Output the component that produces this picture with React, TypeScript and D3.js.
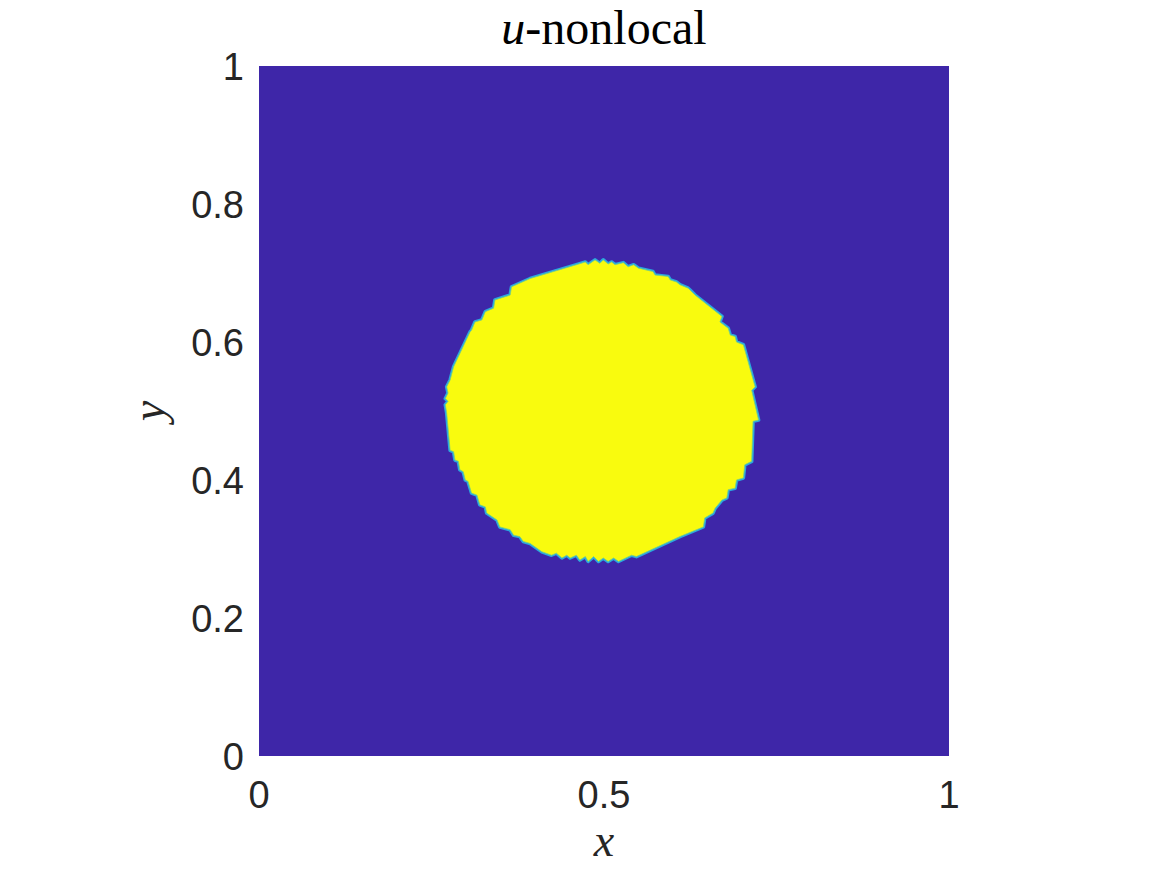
import React from "react";
import * as d3 from "d3";

// Boundary of the u = 1 region (data coordinates), traced clockwise
const blobX = [
  0.282, 0.306, 0.308, 0.313, 0.323, 0.328, 0.340, 0.342, 0.364, 0.366,
  0.393, 0.460, 0.473, 0.477, 0.487, 0.494, 0.499, 0.506, 0.511, 0.516,
  0.528, 0.535, 0.543, 0.550, 0.571, 0.574, 0.593, 0.596, 0.605, 0.610,
  0.622, 0.627, 0.632, 0.671, 0.668, 0.680, 0.683, 0.690, 0.692, 0.702,
  0.719, 0.714, 0.724, 0.716, 0.714, 0.704, 0.702, 0.692, 0.690, 0.680,
  0.678, 0.671, 0.661, 0.658, 0.646, 0.644, 0.610, 0.547, 0.540, 0.521,
  0.514, 0.506, 0.499, 0.492, 0.485, 0.477, 0.473, 0.465, 0.460, 0.451,
  0.446, 0.439, 0.431, 0.424, 0.410, 0.393, 0.383, 0.378, 0.369, 0.364,
  0.349, 0.345, 0.330, 0.328, 0.320, 0.316, 0.308, 0.303, 0.299, 0.296,
  0.291, 0.289, 0.284, 0.282, 0.277, 0.272, 0.270, 0.274, 0.270, 0.274,
  0.272, 0.277,
];
const blobY = [
  0.564, 0.615, 0.617, 0.629, 0.632, 0.644, 0.649, 0.661, 0.668, 0.680,
  0.692, 0.712, 0.716, 0.712, 0.719, 0.714, 0.719, 0.713, 0.716, 0.712,
  0.715, 0.709, 0.712, 0.707, 0.702, 0.697, 0.695, 0.690, 0.687, 0.683,
  0.678, 0.673, 0.668, 0.637, 0.629, 0.620, 0.610, 0.608, 0.600, 0.596,
  0.535, 0.530, 0.487, 0.485, 0.427, 0.422, 0.403, 0.400, 0.388, 0.386,
  0.374, 0.371, 0.359, 0.352, 0.345, 0.332, 0.318, 0.289, 0.291, 0.282,
  0.287, 0.282, 0.287, 0.282, 0.289, 0.282, 0.289, 0.284, 0.291, 0.287,
  0.291, 0.287, 0.294, 0.291, 0.296, 0.308, 0.311, 0.318, 0.320, 0.328,
  0.332, 0.342, 0.352, 0.361, 0.364, 0.378, 0.381, 0.398, 0.400, 0.412,
  0.415, 0.427, 0.429, 0.441, 0.443, 0.497, 0.509, 0.514, 0.518, 0.526,
  0.535, 0.545,
];

const xTicks = [0, 0.5, 1];
const xTickLabels = ["0", "0.5", "1"];
const yTicks = [0, 0.2, 0.4, 0.6, 0.8, 1];
const yTickLabels = ["0", "0.2", "0.4", "0.6", "0.8", "1"];

const W = 1167;
const H = 875;
const L = 259, R = 949, T = 66, B = 756;

export default function App() {
  const x = d3.scaleLinear().domain([0, 1]).range([L, R]);
  const y = d3.scaleLinear().domain([0, 1]).range([B, T]);
  const pts: [number, number][] = blobX.map((v, i) => [v, blobY[i]]);
  const line = d3
    .line<[number, number]>()
    .x((d) => x(d[0]))
    .y((d) => y(d[1]))
    .curve(d3.curveLinearClosed);
  const d = line(pts) || "";
  const tickFont = "'Liberation Sans', Arial, Helvetica, sans-serif";
  const texFont = "'Liberation Serif', 'Times New Roman', serif";
  return (
    <svg
      width={W}
      height={H}
      style={{ position: "absolute", left: 0, top: 0, background: "#fff" }}
    >
      <rect x={x(0)} y={y(1)} width={x(1) - x(0)} height={y(0) - y(1)} fill="#3e26a8" />
      <path d={d} fill="#f9fb0e" stroke="#2aa7e0" strokeWidth={3.6} strokeLinejoin="round" />
      <path d={d} fill="#f9fb0e" stroke="#7fd27a" strokeWidth={0.8} strokeLinejoin="round" />
      {yTicks.map((t, i) => (
        <text
          key={"y" + i}
          x={L - 15}
          y={y(t)}
          dy="0.36em"
          textAnchor="end"
          fontFamily={tickFont}
          fontSize={38}
          fill="#262626"
        >
          {yTickLabels[i]}
        </text>
      ))}
      {xTicks.map((t, i) => (
        <text
          key={"x" + i}
          x={x(t)}
          y={808}
          textAnchor="middle"
          fontFamily={tickFont}
          fontSize={38}
          fill="#262626"
        >
          {xTickLabels[i]}
        </text>
      ))}
      <text x={(L + R) / 2} y={44} textAnchor="middle" fontFamily={texFont} fontSize={48} fill="#000">
        <tspan fontStyle="italic">u</tspan>-nonlocal
      </text>
      <text x={(L + R) / 2} y={856} textAnchor="middle" fontFamily={texFont} fontSize={46} fontStyle="italic" fill="#262626">
        x
      </text>
      <text
        transform={`translate(164, ${(T + B) / 2}) rotate(-90)`}
        textAnchor="middle"
        fontFamily={texFont}
        fontSize={46}
        fontStyle="italic"
        fill="#262626"
      >
        y
      </text>
    </svg>
  );
}
